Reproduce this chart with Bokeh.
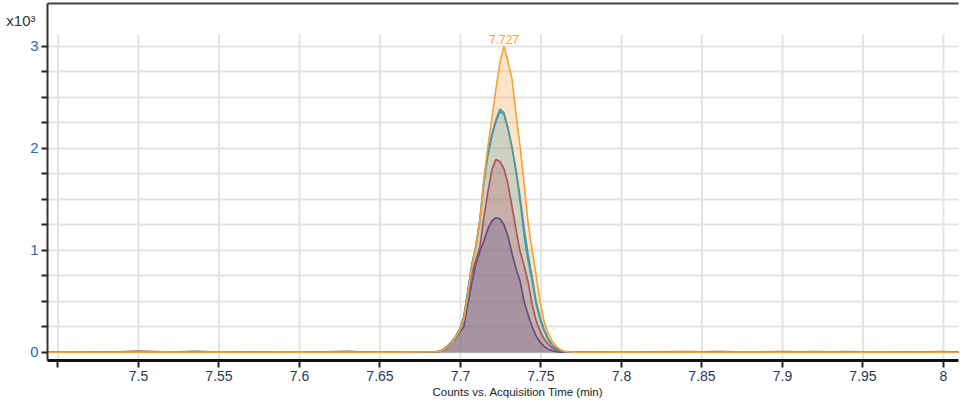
from bokeh.plotting import figure
from bokeh.models import Range1d, FixedTicker, LinearAxis, Title, ColumnDataSource
from bokeh.core.properties import value
from bokeh.embed import file_html
from bokeh.resources import INLINE

# ---------------- data ----------------
t_left = [7.4435, 7.46, 7.48, 7.50, 7.52, 7.535, 7.55, 7.57, 7.59, 7.61, 7.63, 7.64, 7.66, 7.675, 7.6845]
t_peak = [7.687, 7.6895, 7.692, 7.6945, 7.697, 7.6995, 7.702, 7.7045, 7.707, 7.7095,
          7.712, 7.7145, 7.717, 7.7195, 7.722, 7.7245, 7.727, 7.7295, 7.732, 7.7345,
          7.737, 7.7395, 7.742, 7.7445, 7.747, 7.7495, 7.752, 7.7545, 7.757, 7.7595,
          7.762, 7.7645, 7.767, 7.7695, 7.772]
t_right = [7.78, 7.80, 7.82, 7.84, 7.86, 7.88, 7.90, 7.92, 7.94, 7.96, 7.98, 8.00, 8.0093]
time_min = t_left + t_peak + t_right

orange = ([2, 3, 2, 4, 3, 2, 3, 2, 3, 2, 3, 2, 3, 4, 6]
          + [10, 28, 55, 90, 150, 215, 320, 560, 830, 1040, 1300, 1690, 2020, 2290, 2580, 2840, 3000, 2850,
             2680, 2340, 2020, 1660, 1270, 1000, 760, 490, 300, 185, 110, 60, 28, 12, 6, 3, 2]
          + [2, 3, 2, 3, 2, 3, 2, 3, 2, 3, 2, 3, 2])
teal = ([2, 3, 4, 3, 5, 8, 3, 2, 4, 3, 2, 3, 4, 5, 7]
        + [10, 30, 60, 100, 150, 220, 340, 590, 850, 1040, 1300, 1680, 1950, 2140, 2280, 2385, 2350, 2200,
           2010, 1770, 1480, 1150, 900, 700, 470, 320, 210, 125, 70, 38, 18, 8, 4, 2, 2]
        + [4, 6, 3, 5, 4, 3, 4, 8, 5, 6, 3, 5, 4])
blue = ([3, 2, 3, 4, 3, 12, 4, 3, 2, 3, 4, 3, 3, 5, 6]
        + [12, 32, 65, 105, 160, 230, 350, 600, 860, 1040, 1290, 1660, 1930, 2120, 2260, 2360, 2330, 2190,
           2010, 1790, 1530, 1220, 960, 740, 500, 340, 225, 135, 75, 40, 20, 9, 4, 2, 2]
        + [3, 5, 4, 3, 4, 5, 3, 4, 8, 4, 3, 4, 3])
red = ([2, 3, 2, 14, 3, 2, 4, 3, 5, 3, 4, 6, 3, 4, 6]
       + [10, 30, 60, 100, 150, 220, 330, 560, 770, 900, 1030, 1320, 1570, 1790, 1890, 1870, 1800, 1650,
          1430, 1200, 990, 850, 690, 470, 310, 205, 130, 80, 45, 22, 10, 5, 3, 2, 2]
       + [5, 4, 6, 8, 5, 4, 9, 3, 4, 3, 4, 8, 4])
purple = ([3, 2, 4, 3, 2, 3, 2, 3, 4, 3, 12, 3, 4, 5, 5]
          + [8, 25, 50, 90, 140, 200, 250, 470, 680, 860, 990, 1090, 1210, 1290, 1320, 1310, 1250, 1140,
             970, 820, 700, 500, 370, 250, 160, 100, 60, 32, 16, 7, 3, 2, 2, 2, 2]
          + [4, 5, 3, 4, 9, 3, 4, 3, 4, 3, 6, 4, 3])

peak_rt = [7.727]
peak_height = [max(orange)]
peak_text = ["%.3f" % v for v in peak_rt]

x_ticks = [7.45, 7.5, 7.55, 7.6, 7.65, 7.7, 7.75, 7.8, 7.85, 7.9, 7.95, 8.0]
x_tick_labels = ["", "7.5", "7.55", "7.6", "7.65", "7.7", "7.75", "7.8", "7.85", "7.9", "7.95", "8"]
y_ticks = [0, 250, 500, 750, 1000, 1250, 1500, 1750, 2000, 2250, 2500, 2750, 3000]
y_tick_labels = ["0", "", "", "", "1", "", "", "", "2", "", "", "", "3"]
y_scale_text = "x10\u00b3"
x_title = "Counts vs. Acquisition Time (min)"

x_start, x_end = 7.44348, 8.00932
y_start, y_end = -79, 3419
grid_top = 3115
scale_label_pos = 3252   # height (counts) where the "x10^3" multiplier sits

FONT = "Liberation Sans"

p = figure(width=960, height=406, output_backend="svg", toolbar_location=None,
           x_range=Range1d(x_start, x_end), y_range=Range1d(y_start, y_end),
           min_border_left=47, min_border_right=2, min_border_top=3, min_border_bottom=46)
p.outline_line_color = None
p.background_fill_color = "white"
p.border_fill_color = "white"

# grid
p.xgrid.visible = False
p.ygrid.ticker = FixedTicker(ticks=y_ticks)
p.ygrid.grid_line_color = "#e3e3e3"
p.ygrid.grid_line_width = 2
p.segment(x0=x_ticks, y0=[y_start] * len(x_ticks), x1=x_ticks, y1=[grid_top] * len(x_ticks),
          line_color="#e3e3e3", line_width=2)

src = ColumnDataSource(dict(t=time_min, orange=orange, teal=teal, blue=blue, red=red, purple=purple))

series = [
    ("orange", "#f7a035", "#f9a040", 0.29),
    ("blue", "#3a9ad0", "#3a9ad0", 0.04),
    ("teal", "#4f9898", "#4a9aa8", 0.22),
    ("red", "#a8505e", "#b05060", 0.25),
    ("purple", "#5a4c8c", "#5a4a90", 0.28),
]
for name, lc, fc, a in series:
    p.varea(x="t", y1=0, y2=name, source=src, fill_color=fc, fill_alpha=a)
for name, lc, fc, a in [series[4], series[3], series[1], series[2], series[0]]:
    p.line(x="t", y=name, source=src, line_color=lc, line_width=1.6)

p.text(x=peak_rt, y=peak_height, text=peak_text, text_font=value(FONT), text_font_size="12px",
       text_color="#f7a035", text_align="center", text_baseline="bottom", y_offset=-2)

# axes
xa = p.xaxis[0]
xa.ticker = FixedTicker(ticks=x_ticks)
xa.major_label_overrides = {v: s for v, s in zip(x_ticks, x_tick_labels)}
xa.minor_tick_line_color = None
xa.major_tick_in = 0
xa.major_tick_out = 7
xa.major_tick_line_width = 2
xa.major_tick_line_color = "#222222"
xa.axis_line_width = 3
xa.axis_line_color = "#111111"
xa.major_label_text_font = FONT
xa.major_label_text_font_size = "14px"
xa.major_label_text_color = "#27385a"
xa.major_label_standoff = 3

p.add_layout(Title(text=x_title, align="left", offset=385, standoff=0,
                   text_font=FONT, text_font_size="11.5px", text_font_style="normal",
                   text_color="#222222"), "below")

ya = p.yaxis[0]
ya.ticker = FixedTicker(ticks=y_ticks)
ya.major_label_overrides = {v: s for v, s in zip(y_ticks, y_tick_labels)}
ya.minor_tick_line_color = None
ya.major_tick_in = 0
ya.major_tick_out = 6
ya.major_tick_line_width = 2
ya.major_tick_line_color = "#222222"
ya.axis_line_width = 2
ya.axis_line_color = "#333333"
ya.major_label_text_font = FONT
ya.major_label_text_font_size = "15px"
ya.major_label_text_color = "#2e64a8"
ya.major_label_standoff = 3

# outer left axis carrying only the "x10^3" multiplier
mult = LinearAxis(ticker=FixedTicker(ticks=[scale_label_pos]),
                  major_label_overrides={scale_label_pos: y_scale_text},
                  major_tick_out=0, major_tick_in=0, axis_line_color=None,
                  minor_tick_line_color=None, major_label_standoff=-8,
                  major_label_text_font=FONT, major_label_text_font_size="15px",
                  major_label_text_color="#333333")
p.add_layout(mult, "left")

top = LinearAxis(ticker=FixedTicker(ticks=[]), major_tick_out=0, major_tick_in=0,
                 major_label_text_font_size="0px", major_label_standoff=0,
                 axis_line_width=2, axis_line_color="#444444", minor_tick_line_color=None)
p.add_layout(top, "above")

open("out.html", "w").write(file_html(p, INLINE))
